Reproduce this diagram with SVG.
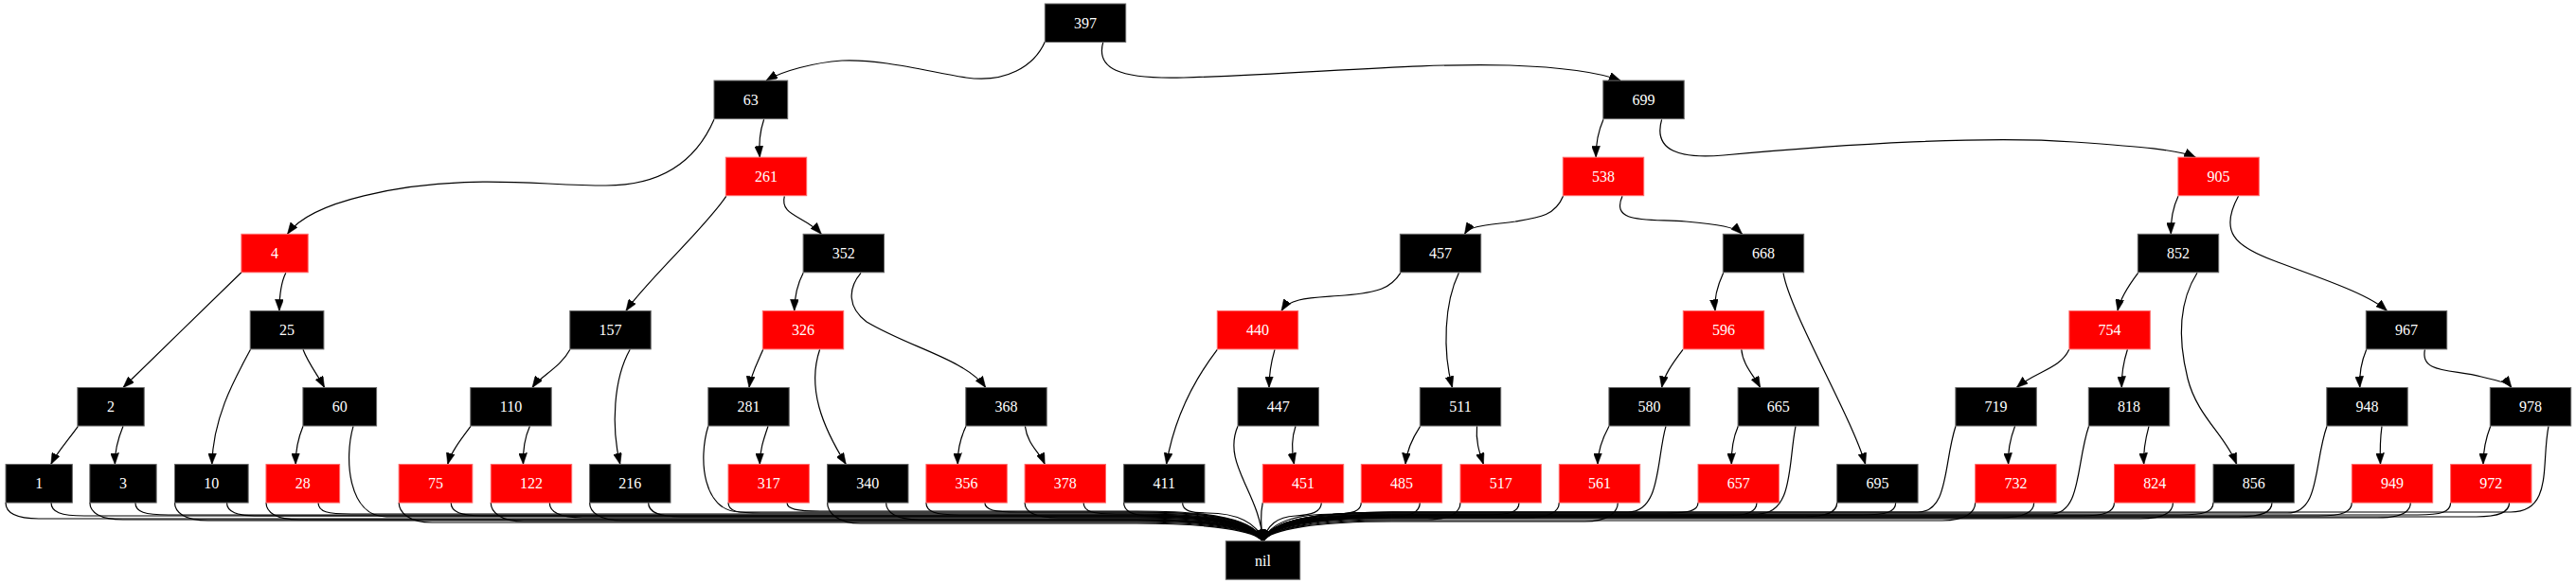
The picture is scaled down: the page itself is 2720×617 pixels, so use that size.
<svg xmlns="http://www.w3.org/2000/svg" width="2720" height="617" viewBox="0 0 2720 617">
<style>
.k{fill:#000;stroke:#666;stroke-width:1}
.r{fill:#f00;stroke:#ff6a6a;stroke-width:1}
text{font-family:"Liberation Serif","Times New Roman",serif;font-size:16px;fill:#fff;text-anchor:middle}
#edges path{fill:none;stroke:#000;stroke-width:1.2;marker-end:url(#ah)}
</style>
<defs>
<marker id="ah" markerWidth="12" markerHeight="9" refX="12" refY="4.5" orient="auto" markerUnits="userSpaceOnUse"><path d="M0,0 L12,4.5 L0,9 z" fill="#000" stroke="#000" stroke-width="0.5"/></marker>
</defs>
<rect width="2720" height="617" fill="#fff"/>
<g id="edges">
<path d="M1103.3,44.3 C1092,70 1062,88 1020,82 C982,76 930,62 889,64 C860,66 826,75 809,85.1"/>
<path d="M1164.8,44.3 C1157,72 1180,84 1250,82 C1380,78 1500,66 1594,69 C1650,71 1690,77 1711,85.1"/>
<path d="M754,126.3 C735,170 700,196 640,196 C590,196 540,190 490,192.7 C430,195 330,210 303.5,247.3"/>
<path d="M806.6,126.3 C802,140 801,152 802.3,166.2"/>
<path d="M1693,126.3 C1687,140 1685,152 1685.2,166.2"/>
<path d="M1754.6,126.3 C1745,160 1775,168 1820,164 C1950,152 2100,143 2190,150 C2260,155 2300,158 2318.4,166.2"/>
<path d="M766.7,207.3 C745,240 680,300 661,328.4"/>
<path d="M828.3,207.3 C823,228 850,228 867.3,247.3"/>
<path d="M1650.5,207.3 C1642,228 1625,230 1600,234 C1570,238 1552,238 1546.5,247.3"/>
<path d="M1713,207.3 C1700,237 1740,231 1780,234 C1815,237 1832,240 1839.6,247.3"/>
<path d="M2300,207.3 C2294,220 2292,235 2292.3,247.3"/>
<path d="M2363.5,207.3 C2343,245 2360,260 2400,275 C2450,294 2500,310 2520.5,328.4"/>
<path d="M254.9,287.8 C220,322 165,375 130,409.5"/>
<path d="M301.8,288.3 C296,300 295,315 294.9,328.4"/>
<path d="M848.2,288.3 C842,300 839,315 838.7,328.4"/>
<path d="M909,288.3 C895,305 895,325 915,340 C960,367 1020,380 1040.8,409.5"/>
<path d="M805.7,369.3 C800,383 793,395 791,409.5"/>
<path d="M865.6,369.3 C852,410 868,450 893.3,490.6"/>
<path d="M82.4,450.3 C72,465 60,478 53.8,490.6"/>
<path d="M130,450.3 C124,465 121,478 121.4,490.6"/>
<path d="M264.5,369.3 C248,400 225,440 223.8,490.6"/>
<path d="M320,369.3 C326,385 336,397 342.6,409.5"/>
<path d="M320,450.3 C314,465 312,478 312.2,490.6"/>
<path d="M601.9,369.3 C592,388 570,398 562,409.5"/>
<path d="M665.2,369.3 C648,400 645,450 654.8,490.6"/>
<path d="M497,450.3 C486,465 476,478 472.7,490.6"/>
<path d="M559.4,450.3 C553,465 552,478 552.5,490.6"/>
<path d="M811,450.3 C806,465 802,477 802.3,490.6"/>
<path d="M1020,450.3 C1013,465 1011,478 1011.3,490.6"/>
<path d="M1082.4,450.3 C1085,470 1098,478 1103.2,490.6"/>
<path d="M1478.8,288.3 C1468,305 1455,309 1420,312 C1385,315 1362,314 1353,328.4"/>
<path d="M1540.4,288.3 C1525,320 1523,370 1533.5,409.5"/>
<path d="M1285.3,369.3 C1262,400 1240,440 1231.6,490.6"/>
<path d="M1346,369.3 C1342,383 1340,396 1340,409.5"/>
<path d="M1368,450.3 C1363,465 1364,478 1366.5,490.6"/>
<path d="M1499.6,450.3 C1490,465 1485,478 1484,490.6"/>
<path d="M1559.5,450.3 C1558,468 1563,480 1566.4,490.6"/>
<path d="M1819.7,288.3 C1812,305 1810,318 1811,328.4"/>
<path d="M1883,288.3 C1890,330 1955,440 1969.7,490.6"/>
<path d="M1777,369.3 C1765,385 1757,397 1754.6,409.5"/>
<path d="M1838.8,369.3 C1840,385 1852,397 1858.7,409.5"/>
<path d="M1699,450.3 C1691,465 1687,478 1687,490.6"/>
<path d="M1835.3,450.3 C1829,465 1828,478 1828.3,490.6"/>
<path d="M2257.6,288.3 C2245,305 2238,318 2236,328.4"/>
<path d="M2320,288.3 C2300,320 2300,360 2310,400 C2320,440 2350,460 2361.7,490.6"/>
<path d="M2184.8,369.3 C2175,390 2150,392 2129.3,409.5"/>
<path d="M2246.4,369.3 C2242,383 2240,396 2240.3,409.5"/>
<path d="M2127.6,450.3 C2122,465 2120,478 2120.6,490.6"/>
<path d="M2269,450.3 C2265,465 2263,478 2263.7,490.6"/>
<path d="M2498.7,369.3 C2493,383 2491,396 2491.8,409.5"/>
<path d="M2560.4,369.3 C2555,395 2590,390 2620,398 C2640,403 2648,404 2652,409.5"/>
<path d="M2515,450.3 C2513,465 2513,478 2513.5,490.6"/>
<path d="M2629.7,450.3 C2624,465 2622,478 2622,490.6"/>
<path d="M6,531.1 C6,541 16,548 41,548 L1200,548 C1280,548 1326,556 1333.5,571.7"/>
<path d="M54,531.1 C54,541 64,545 89,545 L1200,545 C1280,545 1326,553 1333.5,571.7"/>
<path d="M94.9,531.1 C94.9,541 104.9,549 129.9,549 L1200,549 C1280,549 1326,557 1333.5,571.7"/>
<path d="M142.9,531.1 C142.9,541 152.9,544 177.9,544 L1200,544 C1280,544 1326,552 1333.5,571.7"/>
<path d="M184.5,531.1 C184.5,541 194.5,550 219.5,550 L1200,550 C1280,550 1326,558 1333.5,571.7"/>
<path d="M239.5,531.1 C239.5,541 249.5,545 274.5,545 L1200,545 C1280,545 1326,553 1333.5,571.7"/>
<path d="M281,531.1 C281,541 291,549 316,549 L1200,549 C1280,549 1326,557 1333.5,571.7"/>
<path d="M336,531.1 C336,541 346,543 371,543 L1200,543 C1280,543 1326,551 1333.5,571.7"/>
<path d="M373,450.3 C363,485 368,546 408,546 L1200,546 C1280,546 1326,554 1333.5,571.7"/>
<path d="M421.2,531.1 C421.2,541 431.2,552 456.2,552 L1200,552 C1280,552 1326,560 1333.5,571.7"/>
<path d="M476.2,531.1 C476.2,541 486.2,545 511.2,545 L1200,545 C1280,545 1326,553 1333.5,571.7"/>
<path d="M518.3,531.1 C518.3,541 528.3,551 553.3,551 L1200,551 C1280,551 1326,559 1333.5,571.7"/>
<path d="M580.3,531.1 C580.3,541 590.3,547 615.3,547 L1200,547 C1280,547 1326,555 1333.5,571.7"/>
<path d="M622.6,531.1 C622.6,541 632.6,550 657.6,550 L1200,550 C1280,550 1326,558 1333.5,571.7"/>
<path d="M684.6,531.1 C684.6,541 694.6,546 719.6,546 L1200,546 C1280,546 1326,554 1333.5,571.7"/>
<path d="M747.8,450.3 C737,485 742,541 782,541 L1200,541 C1280,541 1326,549 1333.5,571.7"/>
<path d="M769,531.1 C769,541 779,542 804,542 L1200,542 C1280,542 1326,550 1333.5,571.7"/>
<path d="M831,531.1 C831,538 841,540 866,540 L1200,540 C1280,540 1326,548 1333.5,571.7"/>
<path d="M873.6,531.1 C873.6,541 883.6,553 908.6,553 L1200,553 C1280,553 1326,561 1333.5,571.7"/>
<path d="M935.6,531.1 C935.6,541 945.6,549 970.6,549 L1200,549 C1280,549 1326,557 1333.5,571.7"/>
<path d="M977.9,531.1 C977.9,541 987.9,544 1012.9,544 L1200,544 C1280,544 1326,552 1333.5,571.7"/>
<path d="M1039.9,531.1 C1039.9,539 1049.9,541 1074.9,541 L1200,541 C1280,541 1326,549 1333.5,571.7"/>
<path d="M1082.1,531.1 C1082.1,541 1092.1,547 1117.1,547 L1200,547 C1280,547 1326,555 1333.5,571.7"/>
<path d="M1144.1,531.1 C1144.1,541 1154.1,543 1179.1,543 L1200,543 C1280,543 1326,551 1333.5,571.7"/>
<path d="M1186.6,531.1 C1186.6,541 1196.6,545 1215,545 C1285,545 1326,553 1333.5,571.7"/>
<path d="M1248.6,531.1 C1248.6,540 1258,542 1275,542 C1305,542 1328,552 1333.5,571.7"/>
<path d="M1333.3,531.1 C1331,542 1331,555 1333.5,571.7"/>
<path d="M1307,450.3 C1290,490 1330,520 1333.5,571.7"/>
<path d="M1395.3,531.1 C1395.3,541 1385,544 1368,545 C1348,546 1338,555 1333.5,571.7"/>
<path d="M1437.3,531.1 C1437.3,540 1428,543 1410,543 C1370,543 1341,551 1333.5,571.7"/>
<path d="M1499.3,531.1 C1499.3,541 1489.3,546 1470,546 C1390,546 1341,554 1333.5,571.7"/>
<path d="M1542,531.1 C1542,541 1532,549 1507,549 L1470,549 C1390,549 1341,557 1333.5,571.7"/>
<path d="M1604,531.1 C1604,541 1594,544 1569,544 L1470,544 C1390,544 1341,552 1333.5,571.7"/>
<path d="M1646.3,531.1 C1646.3,541 1636.3,547 1611.3,547 L1470,547 C1390,547 1341,555 1333.5,571.7"/>
<path d="M1708.3,531.1 C1708.3,541 1698.3,551 1673.3,551 L1470,551 C1390,551 1341,559 1333.5,571.7"/>
<path d="M1759,450.3 C1749,485 1754,541 1719,541 L1470,541 C1390,541 1341,549 1333.5,571.7"/>
<path d="M1793,531.1 C1793,540 1783,542 1758,542 L1470,542 C1390,542 1341,550 1333.5,571.7"/>
<path d="M1855,531.1 C1855,541 1845,545 1820,545 L1470,545 C1390,545 1341,553 1333.5,571.7"/>
<path d="M1896,450.3 C1888,490 1894,543 1856,543 L1470,543 C1390,543 1341,551 1333.5,571.7"/>
<path d="M1939.7,531.1 C1939.7,541 1929.7,546 1904.7,546 L1470,546 C1390,546 1341,554 1333.5,571.7"/>
<path d="M2001.7,531.1 C2001.7,541 1991.7,544 1966.7,544 L1470,544 C1390,544 1341,552 1333.5,571.7"/>
<path d="M2065,450.3 C2052,490 2058,541 2025,541 L1470,541 C1390,541 1341,549 1333.5,571.7"/>
<path d="M2085.7,531.1 C2085.7,541 2075.7,550 2050.7,550 L1470,550 C1390,550 1341,558 1333.5,571.7"/>
<path d="M2147.7,531.1 C2147.7,541 2137.7,547 2112.7,547 L1470,547 C1390,547 1341,555 1333.5,571.7"/>
<path d="M2205.6,450.3 C2192,490 2198,543 2165,543 L1470,543 C1390,543 1341,551 1333.5,571.7"/>
<path d="M2232.5,531.1 C2232.5,541 2222.5,545 2197.5,545 L1470,545 C1390,545 1341,553 1333.5,571.7"/>
<path d="M2294.5,531.1 C2294.5,541 2284.5,548 2259.5,548 L1470,548 C1390,548 1341,556 1333.5,571.7"/>
<path d="M2337,531.1 C2337,541 2327,544 2302,544 L1470,544 C1390,544 1341,552 1333.5,571.7"/>
<path d="M2399,531.1 C2399,541 2389,546 2364,546 L1470,546 C1390,546 1341,554 1333.5,571.7"/>
<path d="M2457,450.3 C2443,490 2450,542 2415,542 L1470,542 C1390,542 1341,550 1333.5,571.7"/>
<path d="M2483.3,531.1 C2483.3,541 2473.3,545 2448.3,545 L1470,545 C1390,545 1341,553 1333.5,571.7"/>
<path d="M2545.3,531.1 C2545.3,541 2535.3,547 2510.3,547 L1470,547 C1390,547 1341,555 1333.5,571.7"/>
<path d="M2587.6,531.1 C2587.6,541 2577.6,544 2552.6,544 L1470,544 C1390,544 1341,552 1333.5,571.7"/>
<path d="M2649.6,531.1 C2649.6,541 2639.6,546 2614.6,546 L1470,546 C1390,546 1341,554 1333.5,571.7"/>
<path d="M2691,450.3 C2683,490 2696,541 2651,541 L1470,541 C1390,541 1341,549 1333.5,571.7"/>
</g>
<g id="n397"><rect class="k" x="1103.3" y="4" width="85.4" height="40.5"/><text x="1146" y="29.8">397</text></g>
<g id="n63"><rect class="k" x="754" y="85.1" width="77.7" height="40.5"/><text x="792.85" y="110.9">63</text></g>
<g id="n699"><rect class="k" x="1692.8" y="85.1" width="85.4" height="40.5"/><text x="1735.5" y="110.9">699</text></g>
<g id="n261"><rect class="r" x="766.3" y="166.2" width="85.4" height="40.5"/><text x="809" y="192">261</text></g>
<g id="n538"><rect class="r" x="1650.3" y="166.2" width="85.4" height="40.5"/><text x="1693" y="192">538</text></g>
<g id="n905"><rect class="r" x="2299.9" y="166.2" width="85.4" height="40.5"/><text x="2342.6" y="192">905</text></g>
<g id="n4"><rect class="r" x="254.9" y="247.3" width="70.3" height="40.5"/><text x="290" y="273.1">4</text></g>
<g id="n352"><rect class="k" x="848.1" y="247.3" width="85.4" height="40.5"/><text x="890.8" y="273.1">352</text></g>
<g id="n457"><rect class="k" x="1478.3" y="247.3" width="85.4" height="40.5"/><text x="1521" y="273.1">457</text></g>
<g id="n668"><rect class="k" x="1819.3" y="247.3" width="85.4" height="40.5"/><text x="1862" y="273.1">668</text></g>
<g id="n852"><rect class="k" x="2257.3" y="247.3" width="85.4" height="40.5"/><text x="2300" y="273.1">852</text></g>
<g id="n25"><rect class="k" x="264.2" y="328.4" width="77.7" height="40.5"/><text x="303" y="354.2">25</text></g>
<g id="n157"><rect class="k" x="601.8" y="328.4" width="85.4" height="40.5"/><text x="644.5" y="354.2">157</text></g>
<g id="n326"><rect class="r" x="805.3" y="328.4" width="85.4" height="40.5"/><text x="848" y="354.2">326</text></g>
<g id="n440"><rect class="r" x="1285.3" y="328.4" width="85.4" height="40.5"/><text x="1328" y="354.2">440</text></g>
<g id="n596"><rect class="r" x="1777.3" y="328.4" width="85.4" height="40.5"/><text x="1820" y="354.2">596</text></g>
<g id="n754"><rect class="r" x="2184.9" y="328.4" width="85.4" height="40.5"/><text x="2227.6" y="354.2">754</text></g>
<g id="n967"><rect class="k" x="2498.3" y="328.4" width="85.4" height="40.5"/><text x="2541" y="354.2">967</text></g>
<g id="n2"><rect class="k" x="81.9" y="409.5" width="70.3" height="40.5"/><text x="117" y="435.3">2</text></g>
<g id="n60"><rect class="k" x="319.9" y="409.5" width="77.7" height="40.5"/><text x="358.7" y="435.3">60</text></g>
<g id="n110"><rect class="k" x="496.8" y="409.5" width="85.4" height="40.5"/><text x="539.5" y="435.3">110</text></g>
<g id="n281"><rect class="k" x="747.8" y="409.5" width="85.4" height="40.5"/><text x="790.5" y="435.3">281</text></g>
<g id="n368"><rect class="k" x="1019.8" y="409.5" width="85.4" height="40.5"/><text x="1062.5" y="435.3">368</text></g>
<g id="n447"><rect class="k" x="1307" y="409.5" width="85.4" height="40.5"/><text x="1349.7" y="435.3">447</text></g>
<g id="n511"><rect class="k" x="1499.3" y="409.5" width="85.4" height="40.5"/><text x="1542" y="435.3">511</text></g>
<g id="n580"><rect class="k" x="1698.9" y="409.5" width="85.4" height="40.5"/><text x="1741.6" y="435.3">580</text></g>
<g id="n665"><rect class="k" x="1835.1" y="409.5" width="85.4" height="40.5"/><text x="1877.8" y="435.3">665</text></g>
<g id="n719"><rect class="k" x="2064.9" y="409.5" width="85.4" height="40.5"/><text x="2107.6" y="435.3">719</text></g>
<g id="n818"><rect class="k" x="2205.3" y="409.5" width="85.4" height="40.5"/><text x="2248" y="435.3">818</text></g>
<g id="n948"><rect class="k" x="2456.8" y="409.5" width="85.4" height="40.5"/><text x="2499.5" y="435.3">948</text></g>
<g id="n978"><rect class="k" x="2629.3" y="409.5" width="85.4" height="40.5"/><text x="2672" y="435.3">978</text></g>
<g id="n1"><rect class="k" x="6.05" y="490.6" width="70.3" height="40.5"/><text x="41.2" y="516.4">1</text></g>
<g id="n3"><rect class="k" x="94.85" y="490.6" width="70.3" height="40.5"/><text x="130" y="516.4">3</text></g>
<g id="n10"><rect class="k" x="184.45" y="490.6" width="77.7" height="40.5"/><text x="223.3" y="516.4">10</text></g>
<g id="n28"><rect class="r" x="280.95" y="490.6" width="77.7" height="40.5"/><text x="319.8" y="516.4">28</text></g>
<g id="n75"><rect class="r" x="421.15" y="490.6" width="77.7" height="40.5"/><text x="460" y="516.4">75</text></g>
<g id="n122"><rect class="r" x="518.3" y="490.6" width="85.4" height="40.5"/><text x="561" y="516.4">122</text></g>
<g id="n216"><rect class="k" x="622.6" y="490.6" width="85.4" height="40.5"/><text x="665.3" y="516.4">216</text></g>
<g id="n317"><rect class="r" x="769" y="490.6" width="85.4" height="40.5"/><text x="811.7" y="516.4">317</text></g>
<g id="n340"><rect class="k" x="873.6" y="490.6" width="85.4" height="40.5"/><text x="916.3" y="516.4">340</text></g>
<g id="n356"><rect class="r" x="977.9" y="490.6" width="85.4" height="40.5"/><text x="1020.6" y="516.4">356</text></g>
<g id="n378"><rect class="r" x="1082.1" y="490.6" width="85.4" height="40.5"/><text x="1124.8" y="516.4">378</text></g>
<g id="n411"><rect class="k" x="1186.6" y="490.6" width="85.4" height="40.5"/><text x="1229.3" y="516.4">411</text></g>
<g id="n451"><rect class="r" x="1333.3" y="490.6" width="85.4" height="40.5"/><text x="1376" y="516.4">451</text></g>
<g id="n485"><rect class="r" x="1437.3" y="490.6" width="85.4" height="40.5"/><text x="1480" y="516.4">485</text></g>
<g id="n517"><rect class="r" x="1542" y="490.6" width="85.4" height="40.5"/><text x="1584.7" y="516.4">517</text></g>
<g id="n561"><rect class="r" x="1646.3" y="490.6" width="85.4" height="40.5"/><text x="1689" y="516.4">561</text></g>
<g id="n657"><rect class="r" x="1793" y="490.6" width="85.4" height="40.5"/><text x="1835.7" y="516.4">657</text></g>
<g id="n695"><rect class="k" x="1939.7" y="490.6" width="85.4" height="40.5"/><text x="1982.4" y="516.4">695</text></g>
<g id="n732"><rect class="r" x="2085.7" y="490.6" width="85.4" height="40.5"/><text x="2128.4" y="516.4">732</text></g>
<g id="n824"><rect class="r" x="2232.5" y="490.6" width="85.4" height="40.5"/><text x="2275.2" y="516.4">824</text></g>
<g id="n856"><rect class="k" x="2337" y="490.6" width="85.4" height="40.5"/><text x="2379.7" y="516.4">856</text></g>
<g id="n949"><rect class="r" x="2483.3" y="490.6" width="85.4" height="40.5"/><text x="2526" y="516.4">949</text></g>
<g id="n972"><rect class="r" x="2587.6" y="490.6" width="85.4" height="40.5"/><text x="2630.3" y="516.4">972</text></g>
<g id="nnil"><rect class="k" x="1294.3" y="571.7" width="78.4" height="40.5"/><text x="1333.5" y="597.5">nil</text></g>
</svg>
